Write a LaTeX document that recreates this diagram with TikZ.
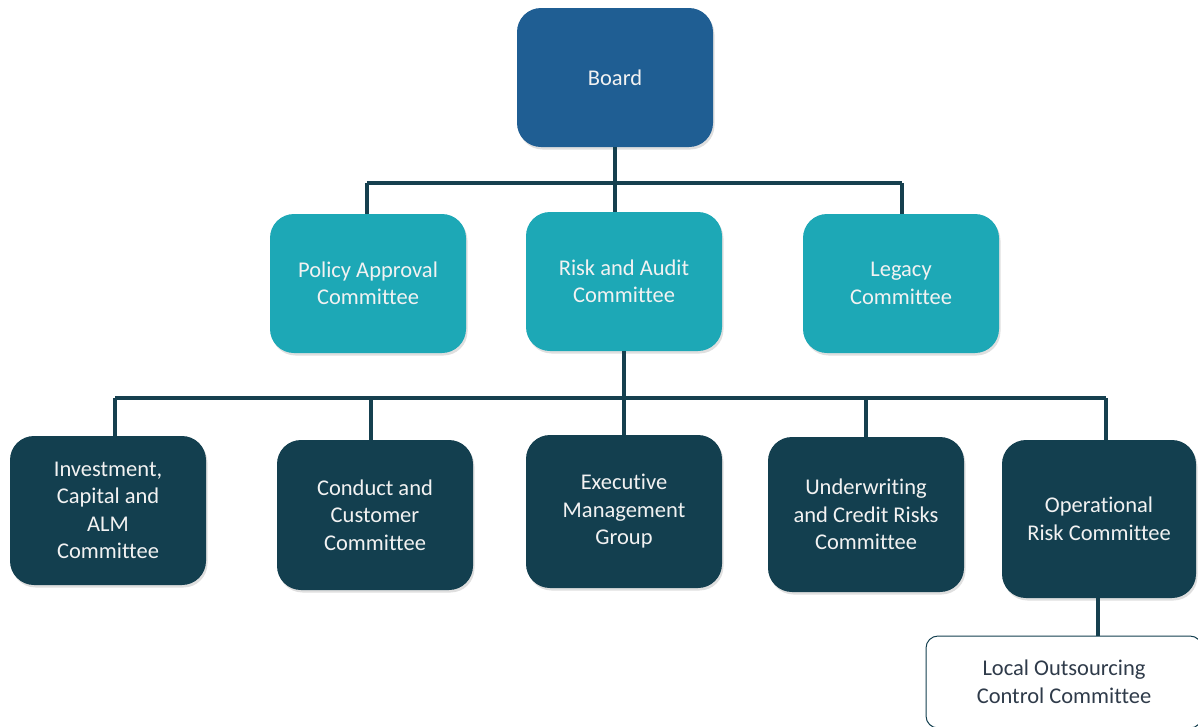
\documentclass[tikz,border=0pt]{standalone}
\usepackage{fontspec}
\setmainfont[Ligatures={NoCommon}]{Carlito}
\usetikzlibrary{shadows}
\definecolor{boardblue}{HTML}{1F5E93}
\definecolor{tealbox}{HTML}{1DA8B6}
\definecolor{darkbox}{HTML}{133F4F}
\definecolor{linec}{HTML}{16404F}
\definecolor{lighttext}{HTML}{F2F2F2}
\definecolor{darktext}{HTML}{2F3B4A}
\tikzset{
  box/.style={rounded corners=24pt, minimum width=196pt, align=center,
    text=lighttext, font=\fontsize{22.5}{27.5}\selectfont,
    drop shadow={shadow xshift=1.5pt, shadow yshift=-2.5pt, opacity=0.25}},
  topbox/.style={box, fill=boardblue, minimum height=139pt},
  midbox/.style={box, fill=tealbox, minimum height=139pt},
  lowbox/.style={box, fill=darkbox},
  whitebox/.style={rounded corners=12pt, draw=darkbox, line width=1pt, fill=white,
    text=darktext, align=center, font=\fontsize{22.5}{27.5}\selectfont},
  conn/.style={draw=linec, line width=3.6pt}
}
\begin{document}
\begin{tikzpicture}[x=1pt,y=-1pt]
\useasboundingbox (0,0) rectangle (1198,726);
\coordinate (j1) at (615,183);
\coordinate (j1l) at (367,183);
\coordinate (j1r) at (902,183);
\coordinate (j2) at (624,398);
\coordinate (j2l) at (115,398);
\coordinate (j2b) at (371,398);
\coordinate (j2d) at (866,398);
\coordinate (j2r) at (1106,398);

\node[topbox] (board) at (615,77.5) {Board};
\node[midbox] (policy) at (368,283.5) {Policy Approval\\Committee};
\node[midbox] (risk) at (624,281.5) {Risk and Audit\\Committee};
\node[midbox] (legacy) at (901,283.5) {Legacy\\Committee};
\node[lowbox, minimum height=149pt] (invest) at (108,510.5) {Investment,\\Capital and\\ALM\\Committee};
\node[lowbox, minimum height=150pt] (conduct) at (375,515) {Conduct and\\Customer\\Committee};
\node[lowbox, minimum height=153pt] (exec) at (624,511.5) {Executive\\Management\\Group};
\node[lowbox, minimum height=155pt] (under) at (866,514.5) {Underwriting\\and Credit Risks\\Committee};
\node[lowbox, minimum height=158pt, minimum width=194pt] (oper) at (1099,519) {Operational\\Risk Committee};
\node[whitebox, minimum width=276pt, minimum height=92pt] (local) at (1064,682) {Local Outsourcing\\Control Committee};

\draw[conn] (board.south) -- (j1);
\draw[conn] (j1l) -- (j1r);
\draw[conn] (j1l) -- (j1l |- policy.north);
\draw[conn] (j1) -- (j1 |- risk.north);
\draw[conn] (j1r) -- (j1r |- legacy.north);
\draw[conn] (risk.south) -- (j2);
\draw[conn] (j2l) -- (j2r);
\draw[conn] (j2l) -- (j2l |- invest.north);
\draw[conn] (j2b) -- (j2b |- conduct.north);
\draw[conn] (j2) -- (j2 |- exec.north);
\draw[conn] (j2d) -- (j2d |- under.north);
\draw[conn] (j2r) -- (j2r |- oper.north);
\coordinate (j3) at (1098,0);
\draw[conn] (j3 |- oper.south) -- (j3 |- local.north);
\end{tikzpicture}
\end{document}
